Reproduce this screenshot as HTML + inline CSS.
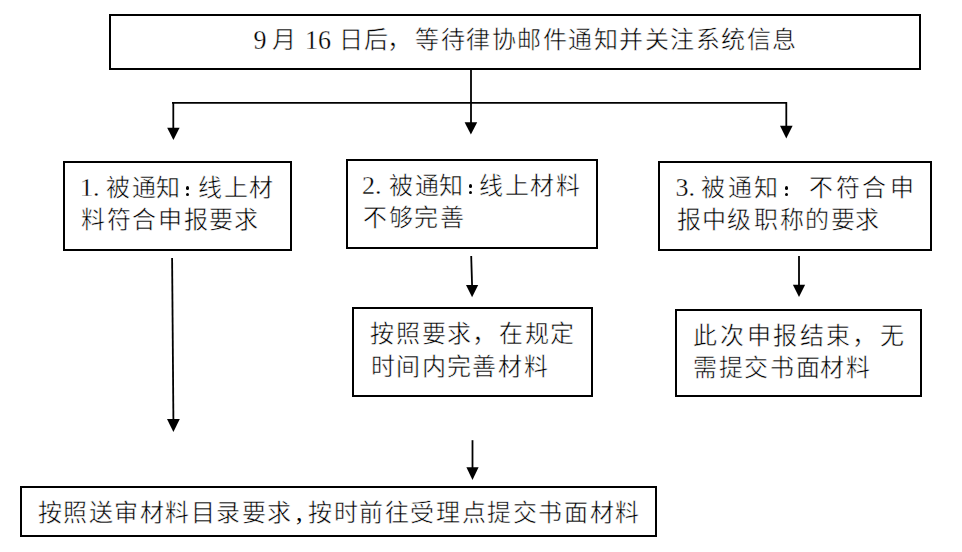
<!DOCTYPE html><html lang="zh-CN"><head><meta charset="utf-8"><style>
html,body{margin:0;padding:0;background:#fff;}
body{width:962px;height:552px;position:relative;overflow:hidden;font-family:"Liberation Serif",serif;color:#000;}
.b{position:absolute;border:2px solid #000;box-sizing:border-box;}
.c{position:absolute;width:30px;height:30px;line-height:30px;text-align:center;font-size:24px;white-space:nowrap;-webkit-text-stroke:0.5px #fff;}
.d{position:absolute;height:30px;line-height:30px;font-size:26px;white-space:nowrap;-webkit-text-stroke:0.3px #fff;}
svg{position:absolute;left:0;top:0;}
</style></head><body>
<div class="b" style="left:109px;top:14px;width:812px;height:56px"></div>
<div class="b" style="left:63px;top:161px;width:229px;height:90px"></div>
<div class="b" style="left:346px;top:159px;width:252px;height:90px"></div>
<div class="b" style="left:658px;top:161px;width:274px;height:90px"></div>
<div class="b" style="left:352px;top:307px;width:241px;height:90px"></div>
<div class="b" style="left:675px;top:309px;width:247px;height:88px"></div>
<div class="b" style="left:20px;top:486px;width:637px;height:51px"></div>
<svg width="962" height="552" viewBox="0 0 962 552"><line x1="471" y1="70" x2="471" y2="123" stroke="#000" stroke-width="1.8"/><line x1="172" y1="102.9" x2="787" y2="102.9" stroke="#000" stroke-width="1.8"/><line x1="173.3" y1="102" x2="173.3" y2="128.5" stroke="#000" stroke-width="1.8"/><line x1="786.3" y1="102" x2="786.3" y2="126.5" stroke="#000" stroke-width="1.8"/><line x1="471.2" y1="256" x2="472.1" y2="286" stroke="#000" stroke-width="1.8"/><line x1="799" y1="256" x2="799" y2="285.5" stroke="#000" stroke-width="1.8"/><line x1="172.1" y1="258" x2="173.4" y2="420" stroke="#000" stroke-width="1.8"/><line x1="472.5" y1="440.2" x2="472.5" y2="468" stroke="#000" stroke-width="1.8"/><polygon points="464.6,122.2 477.2,122.2 470.9,134.6" fill="#000"/><polygon points="167.2,127.8 179.6,127.8 173.4,140.0" fill="#000"/><polygon points="780.0,125.8 792.6,125.8 786.3,138.6" fill="#000"/><polygon points="466.0,285.0 478.2,285.0 472.1,297.3" fill="#000"/><polygon points="792.9,284.8 805.1,284.8 799.0,296.9" fill="#000"/><polygon points="167.0,419.1 179.8,419.1 173.4,432.1" fill="#000"/><polygon points="466.4,467.3 478.6,467.3 472.5,480.1" fill="#000"/></svg>
<span class="c" style="left:245.1px;top:25.7px;font-size:26px;-webkit-text-stroke:0.3px #fff;transform:scaleY(1.05)">9</span>
<span class="c" style="left:268.9px;top:25.1px">月</span>
<span class="c" style="left:302.9px;top:25.7px;font-size:26px;-webkit-text-stroke:0.3px #fff;transform:scaleY(1.05)">16</span>
<span class="c" style="left:335.5px;top:25.1px">日</span>
<span class="c" style="left:361.0px;top:25.1px">后</span>
<span class="c" style="left:384.2px;top:25.1px">，</span>
<span class="c" style="left:412.0px;top:25.1px">等</span>
<span class="c" style="left:437.5px;top:25.1px">待</span>
<span class="c" style="left:463.0px;top:25.1px">律</span>
<span class="c" style="left:488.5px;top:25.1px">协</span>
<span class="c" style="left:514.0px;top:25.1px">邮</span>
<span class="c" style="left:539.5px;top:25.1px">件</span>
<span class="c" style="left:565.0px;top:25.1px">通</span>
<span class="c" style="left:590.5px;top:25.1px">知</span>
<span class="c" style="left:616.0px;top:25.1px">并</span>
<span class="c" style="left:641.5px;top:25.1px">关</span>
<span class="c" style="left:667.0px;top:25.1px">注</span>
<span class="c" style="left:692.5px;top:25.1px">系</span>
<span class="c" style="left:718.0px;top:25.1px">统</span>
<span class="c" style="left:743.5px;top:25.1px">信</span>
<span class="c" style="left:769.0px;top:25.1px">息</span>
<span class="d" style="left:80.0px;top:172.6px">1.</span>
<span class="c" style="left:102.6px;top:172.6px">被</span>
<span class="c" style="left:128.7px;top:172.6px">通</span>
<span class="c" style="left:153.3px;top:172.6px">知</span>
<span class="c" style="left:195.4px;top:172.6px">线</span>
<span class="c" style="left:221.1px;top:172.6px">上</span>
<span class="c" style="left:245.7px;top:172.6px">材</span>
<span class="c" style="left:77.8px;top:205.2px">料</span>
<span class="c" style="left:103.5px;top:205.2px">符</span>
<span class="c" style="left:129.1px;top:205.2px">合</span>
<span class="c" style="left:155.3px;top:205.2px">申</span>
<span class="c" style="left:181.0px;top:205.2px">报</span>
<span class="c" style="left:205.7px;top:205.2px">要</span>
<span class="c" style="left:231.3px;top:205.2px">求</span>
<span class="d" style="left:362.0px;top:170.5px">2.</span>
<span class="c" style="left:385.5px;top:170.5px">被</span>
<span class="c" style="left:411.6px;top:170.5px">通</span>
<span class="c" style="left:436.2px;top:170.5px">知</span>
<span class="c" style="left:475.9px;top:170.5px">线</span>
<span class="c" style="left:502.1px;top:170.5px">上</span>
<span class="c" style="left:527.0px;top:170.5px">材</span>
<span class="c" style="left:552.6px;top:170.5px">料</span>
<span class="c" style="left:360.1px;top:203.1px">不</span>
<span class="c" style="left:386.0px;top:203.1px">够</span>
<span class="c" style="left:410.7px;top:203.1px">完</span>
<span class="c" style="left:436.9px;top:203.1px">善</span>
<span class="d" style="left:675.5px;top:172.7px">3.</span>
<span class="c" style="left:698.2px;top:172.7px">被</span>
<span class="c" style="left:724.6px;top:172.7px">通</span>
<span class="c" style="left:751.3px;top:172.7px">知</span>
<span class="c" style="left:806.2px;top:172.7px">不</span>
<span class="c" style="left:833.0px;top:172.7px">符</span>
<span class="c" style="left:858.9px;top:172.7px">合</span>
<span class="c" style="left:886.5px;top:172.7px">申</span>
<span class="c" style="left:673.5px;top:205.4px">报</span>
<span class="c" style="left:699.2px;top:205.4px">中</span>
<span class="c" style="left:723.8px;top:205.4px">级</span>
<span class="c" style="left:750.5px;top:205.4px">职</span>
<span class="c" style="left:776.7px;top:205.4px">称</span>
<span class="c" style="left:801.8px;top:205.4px">的</span>
<span class="c" style="left:827.5px;top:205.4px">要</span>
<span class="c" style="left:852.0px;top:205.4px">求</span>
<span class="c" style="left:366.8px;top:318.5px">按</span>
<span class="c" style="left:392.5px;top:318.5px">照</span>
<span class="c" style="left:418.6px;top:318.5px">要</span>
<span class="c" style="left:443.7px;top:318.5px">求</span>
<span class="c" style="left:468.6px;top:318.5px">，</span>
<span class="c" style="left:496.3px;top:318.5px">在</span>
<span class="c" style="left:521.5px;top:318.5px">规</span>
<span class="c" style="left:547.1px;top:318.5px">定</span>
<span class="c" style="left:367.8px;top:351.5px">时</span>
<span class="c" style="left:393.0px;top:351.5px">间</span>
<span class="c" style="left:419.1px;top:351.5px">内</span>
<span class="c" style="left:443.8px;top:351.5px">完</span>
<span class="c" style="left:469.0px;top:351.5px">善</span>
<span class="c" style="left:495.2px;top:351.5px">材</span>
<span class="c" style="left:520.9px;top:351.5px">料</span>
<span class="c" style="left:690.2px;top:320.8px">此</span>
<span class="c" style="left:717.1px;top:320.8px">次</span>
<span class="c" style="left:743.6px;top:320.8px">申</span>
<span class="c" style="left:769.6px;top:320.8px">报</span>
<span class="c" style="left:797.0px;top:320.8px">结</span>
<span class="c" style="left:822.6px;top:320.8px">束</span>
<span class="c" style="left:849.0px;top:320.8px">，</span>
<span class="c" style="left:876.5px;top:320.8px">无</span>
<span class="c" style="left:690.3px;top:353.4px">需</span>
<span class="c" style="left:716.0px;top:353.4px">提</span>
<span class="c" style="left:740.7px;top:353.4px">交</span>
<span class="c" style="left:766.8px;top:353.4px">书</span>
<span class="c" style="left:792.5px;top:353.4px">面</span>
<span class="c" style="left:817.2px;top:353.4px">材</span>
<span class="c" style="left:842.9px;top:353.4px">料</span>
<span class="c" style="left:34.7px;top:497.5px">按</span>
<span class="c" style="left:60.2px;top:497.5px">照</span>
<span class="c" style="left:85.7px;top:497.5px">送</span>
<span class="c" style="left:111.2px;top:497.5px">审</span>
<span class="c" style="left:136.7px;top:497.5px">材</span>
<span class="c" style="left:162.2px;top:497.5px">料</span>
<span class="c" style="left:187.7px;top:497.5px">目</span>
<span class="c" style="left:213.2px;top:497.5px">录</span>
<span class="c" style="left:238.7px;top:497.5px">要</span>
<span class="c" style="left:264.2px;top:497.5px">求</span>
<span class="c" style="left:284.2px;top:497.5px;font-size:26px;-webkit-text-stroke:0">,</span>
<span class="c" style="left:305.0px;top:497.5px">按</span>
<span class="c" style="left:330.6px;top:497.5px">时</span>
<span class="c" style="left:356.2px;top:497.5px">前</span>
<span class="c" style="left:381.8px;top:497.5px">往</span>
<span class="c" style="left:407.4px;top:497.5px">受</span>
<span class="c" style="left:433.0px;top:497.5px">理</span>
<span class="c" style="left:458.6px;top:497.5px">点</span>
<span class="c" style="left:484.2px;top:497.5px">提</span>
<span class="c" style="left:509.8px;top:497.5px">交</span>
<span class="c" style="left:535.4px;top:497.5px">书</span>
<span class="c" style="left:561.0px;top:497.5px">面</span>
<span class="c" style="left:586.6px;top:497.5px">材</span>
<span class="c" style="left:612.2px;top:497.5px">料</span>
<i style="position:absolute;left:185.70px;top:186.20px;width:3.6px;height:3.6px;border-radius:50%;background:#000"></i>
<i style="position:absolute;left:185.70px;top:192.80px;width:3.6px;height:3.6px;border-radius:50%;background:#000"></i>
<i style="position:absolute;left:468.80px;top:184.20px;width:3.6px;height:3.6px;border-radius:50%;background:#000"></i>
<i style="position:absolute;left:468.80px;top:190.80px;width:3.6px;height:3.6px;border-radius:50%;background:#000"></i>
<i style="position:absolute;left:784.80px;top:186.20px;width:3.6px;height:3.6px;border-radius:50%;background:#000"></i>
<i style="position:absolute;left:784.80px;top:192.80px;width:3.6px;height:3.6px;border-radius:50%;background:#000"></i>
</body></html>
